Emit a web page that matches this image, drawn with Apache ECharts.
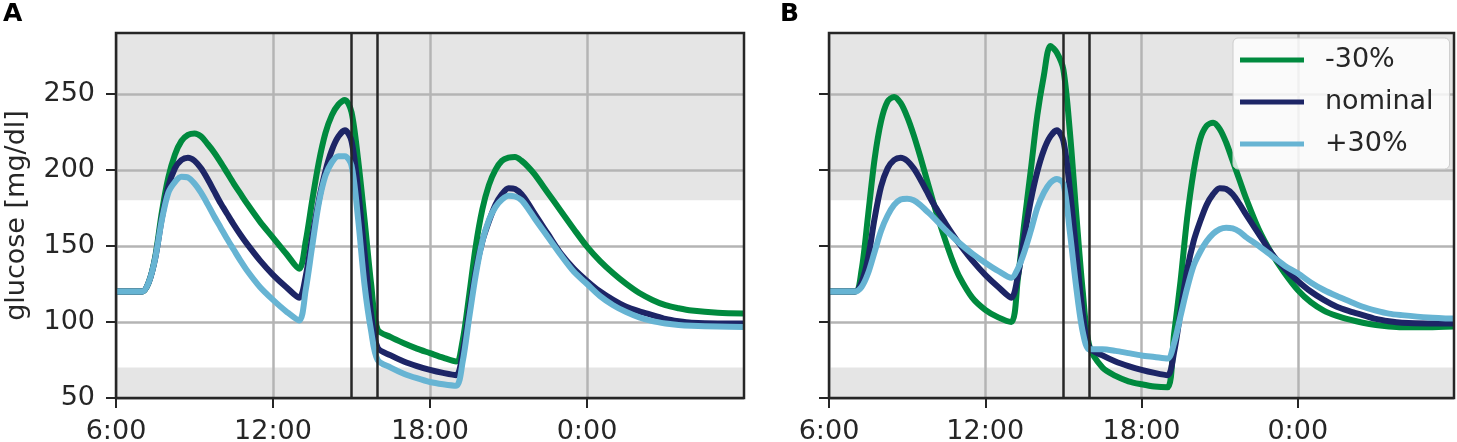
<!DOCTYPE html>
<html>
<head>
<meta charset="utf-8">
<script src="https://cdn.jsdelivr.net/npm/echarts@6/dist/echarts.min.js"></script>
<style>
  html, body { margin: 0; padding: 0; background: #fff; }
  #chart { width: 1457px; height: 442px; }
</style>
</head>
<body>
<div id="chart"></div>
<script>
// time of day in hours, 6:00 .. 6:00 next day (24 = 0:00)
var hours = [6, 7,
  7.25, 7.5, 7.75, 8, 8.25, 8.5, 8.75, 9, 9.25, 9.5, 9.75, 10, 10.25, 10.5, 10.75, 11,
  11.5, 12, 12.5, 13,
  13.25, 13.5, 13.75, 14, 14.25, 14.5, 14.75, 15, 15.25, 15.5, 15.75, 16,
  16.5, 17, 17.5, 18, 18.5, 19,
  19.25, 19.5, 19.75, 20, 20.25, 20.5, 20.75, 21, 21.25, 21.5, 21.75, 22,
  22.5, 23, 23.5, 24, 24.5, 25, 25.5, 26, 26.5, 27, 27.5, 28,
  29, 30];

// nominal curve, same in both panels
var nominal = [120, 120,
  126, 142, 168, 189, 201, 206.5, 208, 206, 201, 194, 186, 178, 171, 164, 157.5, 151.5,
  140.5, 131, 123, 116,
  130, 156, 180, 199, 213, 222, 226, 219, 187, 145, 105, 83,
  78, 74, 71, 68.5, 66.5, 65,
  80, 107, 134, 153, 166, 177, 184, 188, 187.5, 184, 178, 171,
  158, 145, 135, 127, 120, 114.5, 110, 107, 104.5, 102, 100.5, 99.5,
  99, 99];

// panel A
var minus30A = [120, 120,
  126, 143, 172, 195, 210, 219, 223, 224, 222, 217, 211.5, 205, 198, 191, 184.5, 178,
  166, 155.5, 145, 135,
  153, 180, 205, 224, 236, 243, 246, 238, 207, 167, 125, 95,
  90, 86, 82.5, 79.5, 76.5, 74,
  88, 118, 150, 174, 190, 200, 206, 208, 208.5, 206, 202, 197,
  185, 173, 161, 149.5, 140, 132, 125, 119, 114.5, 111, 109, 107.5,
  106, 105.5];
var plus30A = [120, 120,
  126, 142, 167, 185, 192, 195.5, 195, 191, 185, 177.5, 169.5, 162, 154.5, 147.5, 140.5, 134,
  123, 114.5, 107, 101,
  121, 150, 178, 196, 205, 209, 209, 203, 168, 124, 94, 75,
  70, 66, 63, 60.5, 59, 58,
  74, 103, 131, 153, 167, 175.5, 180.5, 183, 182.5, 180, 174.5, 168,
  156, 144, 133, 125, 117, 111, 106.5, 103, 100.5, 99, 98, 97.5,
  97, 96.7];

// panel B
var minus30B = [120, 120,
  134, 170, 207, 232, 245, 248, 244, 235, 223, 209, 194, 179, 165, 152, 140, 130,
  116, 108, 103, 100,
  128, 165, 200, 236, 262, 281.5, 277, 266, 225, 170, 119, 84,
  70, 64.5, 61, 59, 57.5, 57,
  92, 127, 168, 199, 220, 229, 231, 227, 218, 206, 194, 182,
  161, 145, 132, 121, 113, 107.5, 104, 101.5, 99.5, 98, 97, 96.5,
  96.5, 97];
var plus30B = [120, 120,
  123, 132, 146, 160, 170, 177, 180.5, 181, 180, 177, 173, 169, 164.5, 160, 156, 152,
  145, 139, 133.5, 129,
  135, 146, 160, 175, 185, 191.5, 194, 191, 159, 122, 93, 82,
  82, 81, 79.5, 78, 77, 76,
  86, 104, 122, 137, 146, 153, 158, 161, 162, 161.5, 159.5, 156,
  150, 143.5, 137, 132, 126, 121, 117, 113.5, 110, 107.5, 105.5, 104.5,
  103, 102.2];

var names = ['-30%', 'nominal', '+30%'];
var colors = ['#008a3e', '#1d2566', '#67b4d3'];
var xTicks = [6, 12, 18, 24];
var yTicks = [50, 100, 150, 200, 250];
var markerHours = [15, 16];
var bandHigh = [180, 290];
var bandLow = [50, 70];

var panels = [[minus30A, nominal, plus30A], [minus30B, nominal, plus30B]];

function pairs(vals) {
  return hours.map(function (h, i) { return [h, vals[i]]; });
}

var ink = '#262626';
var font = 'DejaVu Sans';

var grids = [
  { left: 116, top: 33, width: 628, height: 365 },
  { left: 829, top: 33, width: 625, height: 365 }
].map(function (g) {
  return Object.assign(g, {
    show: true, backgroundColor: 'transparent', outerBoundsMode: 'none',
    borderColor: ink, borderWidth: 2.5, z: 5
  });
});

var xAxes = [0, 1].map(function (gi) {
  return {
    type: 'value', gridIndex: gi, min: 6, max: 30, interval: 6, z: 1,
    axisLine: { show: false },
    axisTick: { show: true, length: 10, customValues: xTicks,
      lineStyle: { color: ink, width: 2 } },
    axisLabel: { customValues: xTicks, fontSize: 27, color: ink, fontFamily: font, margin: 20,
      formatter: function (v) { return (v % 24) + ':00'; } },
    splitLine: { show: true, lineStyle: { color: '#b4b4b4', width: 2.5 } }
  };
});

var yAxes = [0, 1].map(function (gi) {
  return {
    type: 'value', gridIndex: gi, min: 50, max: 290, interval: 50, z: 1,
    name: gi === 0 ? 'glucose [mg/dl]' : '',
    nameLocation: 'middle', nameGap: 86,
    nameTextStyle: { fontSize: 27, color: ink, fontFamily: font },
    axisLine: { show: false },
    axisTick: { show: true, length: 10, customValues: yTicks,
      lineStyle: { color: ink, width: 2 } },
    axisLabel: { show: gi === 0, customValues: yTicks, fontSize: 27, color: ink,
      fontFamily: font, margin: 21 },
    splitLine: { show: true, lineStyle: { color: '#b4b4b4', width: 2.5 } }
  };
});

var series = [];
[0, 1].forEach(function (gi) {
  // grey out-of-range bands, kept under the grid lines
  series.push({
    type: 'line', xAxisIndex: gi, yAxisIndex: gi, data: [], z: 0, silent: true,
    markArea: {
      silent: true, z: 0,
      itemStyle: { color: '#e5e5e5' },
      data: [
        [{ yAxis: bandHigh[0] }, { yAxis: bandHigh[1] }],
        [{ yAxis: bandLow[0] }, { yAxis: bandLow[1] }]
      ]
    }
  });
  panels[gi].forEach(function (vals, k) {
    series.push({
      name: names[k], type: 'line', xAxisIndex: gi, yAxisIndex: gi,
      data: pairs(vals), showSymbol: false, smooth: 0.3, z: 3,
      color: colors[k],
      lineStyle: { color: colors[k], width: 6, join: 'round' }
    });
  });
  // vertical markers at 15:00 and 16:00
  series.push({
    type: 'line', xAxisIndex: gi, yAxisIndex: gi, data: [], z: 4, silent: true,
    markLine: {
      silent: true, symbol: 'none', label: { show: false },
      lineStyle: { color: ink, width: 2.5, type: 'solid' },
      data: markerHours.map(function (h) { return { xAxis: h }; })
    }
  });
});

var chart = echarts.init(document.getElementById('chart'));
chart.setOption({
  animation: false,
  textStyle: { fontFamily: font },
  title: [
    { text: 'A', left: 3, top: 2, padding: 0,
      textStyle: { fontSize: 25, fontWeight: 'bold', color: '#000', fontFamily: font } },
    { text: 'B', left: 780, top: 2, padding: 0,
      textStyle: { fontSize: 25, fontWeight: 'bold', color: '#000', fontFamily: font } }
  ],
  legend: {
    data: names, orient: 'vertical', left: 1233, top: 38,
    padding: [7, 16, 10, 7], itemGap: 12,
    icon: 'rect', itemWidth: 64, itemHeight: 5,
    backgroundColor: 'rgba(255,255,255,0.8)', borderColor: '#cccccc',
    borderWidth: 1, borderRadius: 5,
    textStyle: { fontSize: 27, color: ink, fontFamily: font, lineHeight: 30,
      padding: [0, 0, 0, 16] }
  },
  grid: grids,
  xAxis: xAxes,
  yAxis: yAxes,
  series: series
});
</script>
</body>
</html>
